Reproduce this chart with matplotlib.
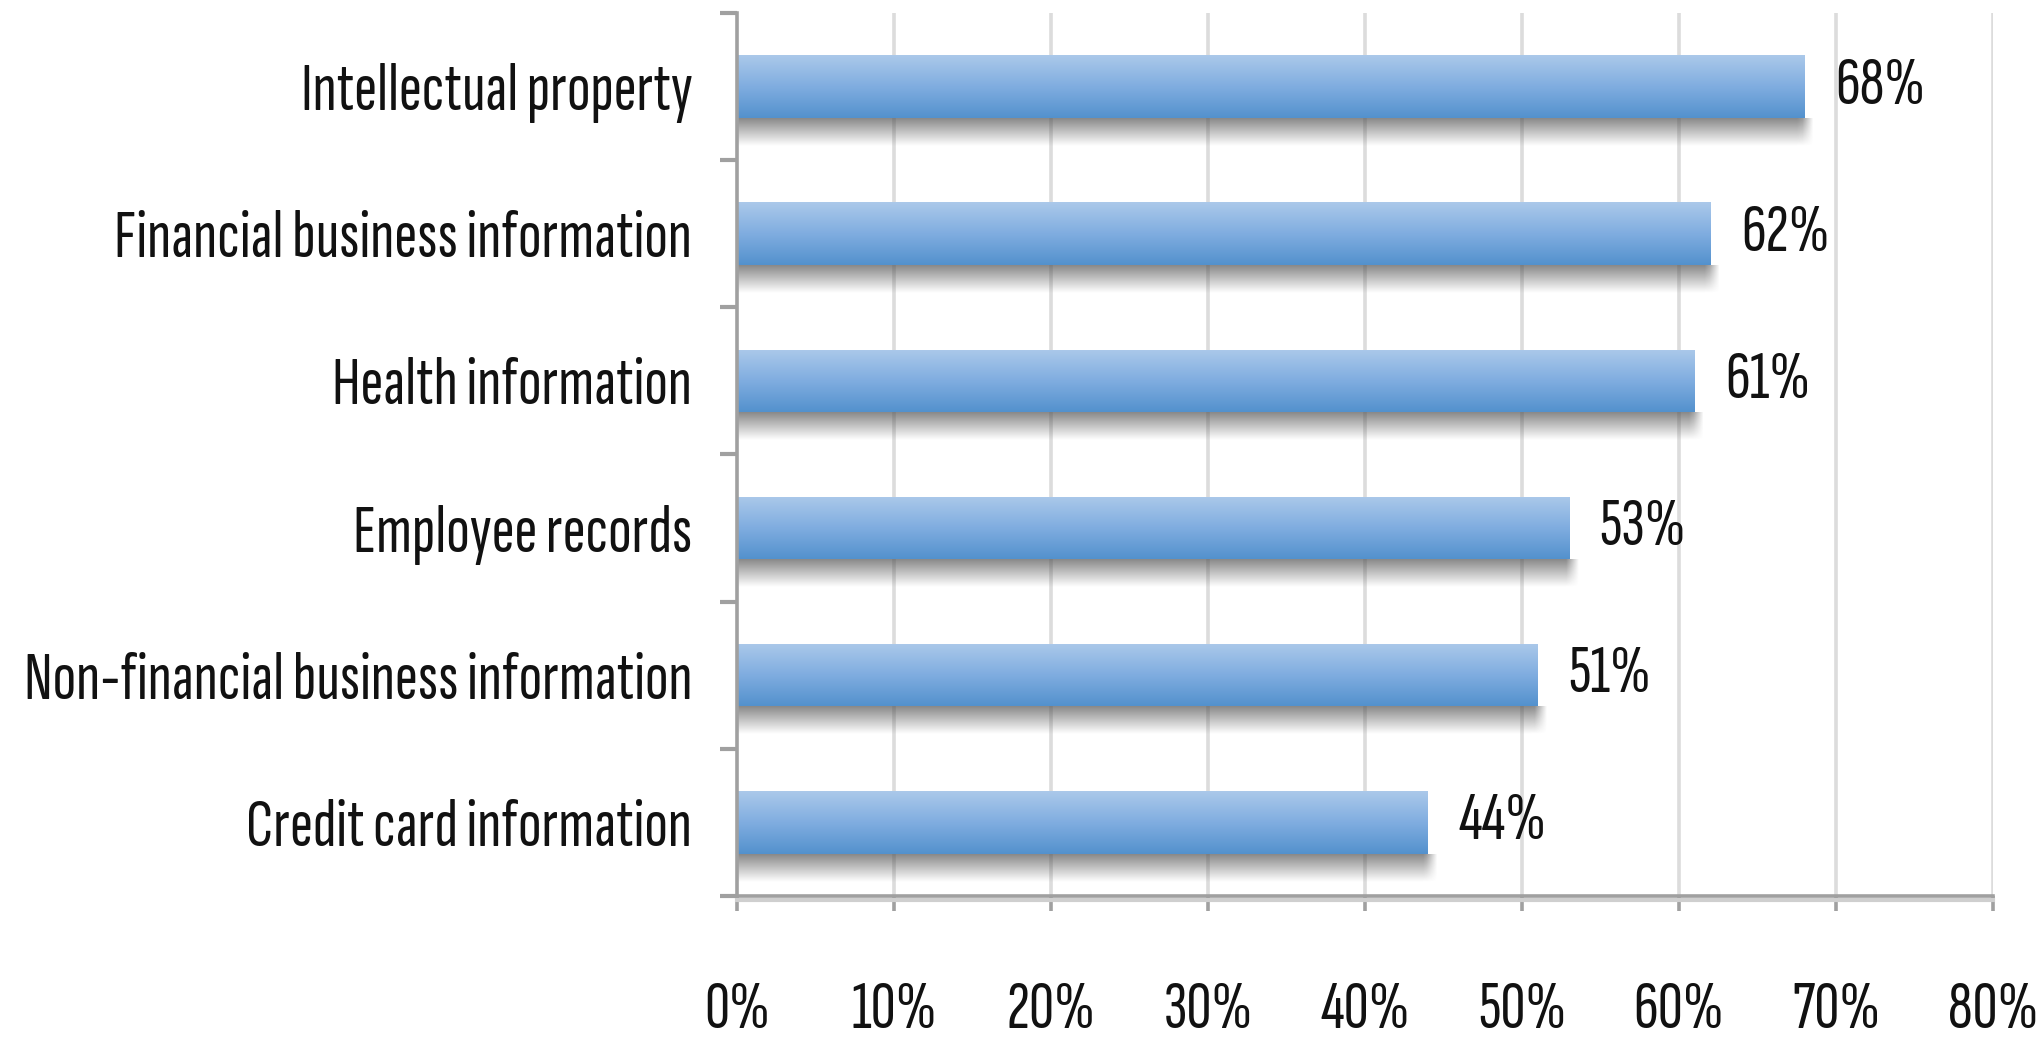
import numpy as np
import matplotlib
matplotlib.use("Agg")
import matplotlib.pyplot as plt
from matplotlib.colors import LinearSegmentedColormap
from matplotlib.ticker import FixedLocator, FuncFormatter

# Types of data at risk (share of respondents, %)
categories = [
    "Intellectual property",
    "Financial business information",
    "Health information",
    "Employee records",
    "Non-financial business information",
    "Credit card information",
]
values = [68, 62, 61, 53, 51, 44]
x_ticks = [0, 10, 20, 30, 40, 50, 60, 70, 80]

FONT = ["Sofia Sans Extra Condensed", "Pathway Gothic One", "DejaVu Sans"]
FS = 50

plt.rcParams["font.family"] = FONT

fig = plt.figure(figsize=(20.43, 10.37), dpi=100, facecolor="white")
ax = fig.add_axes([0.3607, 0.136, 0.6148, 0.8515])

n = len(categories)
ypos = np.arange(n)
bar_h = 0.425

ax.set_xlim(0, 80)
ax.set_ylim(n - 0.5, -0.5)

# vertical gridlines
for t in x_ticks[1:]:
    ax.axvline(t, color="#dcdcdc", lw=2.6, zorder=0.5)

bar_cmap = LinearSegmentedColormap.from_list("bar", ["#abc9ea", "#80ade0", "#5391cd"])
grad = np.linspace(0, 1, 256).reshape(-1, 1)

bars = ax.barh(ypos, values, height=bar_h, color="none", edgecolor="none", zorder=3)

shadow_depth = 0.19
for rect, v in zip(bars.patches, values):
    y0 = rect.get_y()
    y1 = y0 + rect.get_height()
    # soft drop shadow below each bar
    ext = v + 0.7
    nx, ny = 200, 64
    xs = np.linspace(0, ext, nx)
    ys = np.linspace(0, 1, ny)
    fade_y = 1 - ys
    fade_x = np.clip((ext - xs) / 0.8, 0, 1)
    alpha = 0.68 * fade_y[:, None] * fade_x[None, :]
    rgba = np.zeros((ny, nx, 4))
    rgba[..., :3] = 0.32
    rgba[..., 3] = alpha
    ax.imshow(rgba, extent=(0, ext, y1 + shadow_depth, y1), aspect="auto",
              interpolation="bilinear", zorder=2)
    # vertical gradient fill of the bar
    im = ax.imshow(grad, extent=(0, v, y1, y0), aspect="auto", cmap=bar_cmap,
                   interpolation="bilinear", zorder=3)
    im.set_clip_path(rect)
    ax.text(v + 1.95, rect.get_y() + rect.get_height() / 2, f"{v}%",
            ha="left", va="center", fontsize=FS, color="#111111", zorder=5)

ax.set_xlim(0, 80)
ax.set_ylim(n - 0.5, -0.5)

# axes styling
for side in ("top", "right"):
    ax.spines[side].set_visible(False)
for side in ("left", "bottom"):
    ax.spines[side].set_color("#a0a0a0")
    ax.spines[side].set_linewidth(2.6)
    ax.spines[side].set_zorder(4)
ax.plot([0, 1], [-0.004, -0.004], transform=ax.transAxes, color="#cfcfcf",
        lw=3.0, clip_on=False, zorder=3.5)

ax.set_yticks(ypos)
ax.set_yticklabels(categories)
ax.yaxis.set_minor_locator(FixedLocator(np.arange(-0.5, n, 1.0)))
ax.tick_params(axis="y", which="major", length=0, pad=32, labelsize=FS, labelcolor="#111111")
ax.tick_params(axis="y", which="minor", length=12, width=3, color="#a0a0a0", direction="out")

ax.set_xticks(x_ticks)
ax.xaxis.set_major_formatter(FuncFormatter(lambda x, _: f"{int(x)}%"))
ax.tick_params(axis="x", which="major", length=11, width=2.6, color="#a0a0a0",
               direction="out", pad=50, labelsize=FS, labelcolor="#111111")

ax.set_facecolor("white")
fig.savefig("out.png", dpi=100, facecolor="white")
